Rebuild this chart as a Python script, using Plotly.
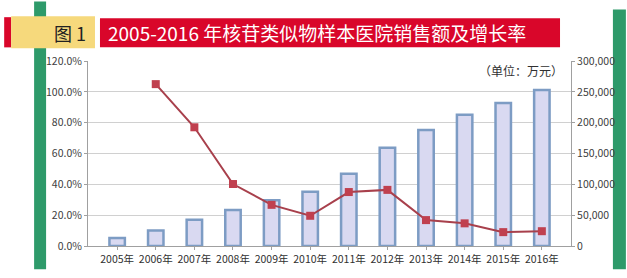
import plotly.graph_objects as go

years = ["2005年", "2006年", "2007年", "2008年", "2009年", "2010年",
         "2011年", "2012年", "2013年", "2014年", "2015年", "2016年"]
sales = [13000, 25000, 42500, 58500, 74000, 88000,
         117000, 159500, 188000, 213000, 232000, 253000]
growth = [None, 105.0, 77.0, 40.2, 26.7, 19.6,
          35.0, 36.4, 16.8, 14.7, 9.0, 9.6]

FONT = "Noto Sans CJK SC"

fig = go.Figure()
fig.add_trace(go.Bar(
    x=years, y=sales, width=0.4,
    marker=dict(color="#d9d9f1", line=dict(color="#7d9cc4", width=2.5)),
    yaxis="y", showlegend=False,
))
fig.add_trace(go.Scatter(
    x=years, y=growth, mode="lines+markers",
    line=dict(color="#a8404c", width=2),
    marker=dict(symbol="square", size=8, color="#c0404f"),
    yaxis="y2", showlegend=False,
))

fig.update_layout(
    width=627, height=278,
    margin=dict(l=88, r=55, t=61, b=27),
    paper_bgcolor="white", plot_bgcolor="white",
    font=dict(family=FONT, size=10.5, color="#404040"),
    xaxis=dict(
        showline=True, linecolor="#a0a0a0", linewidth=1,
        ticks="outside", ticklen=3, tickcolor="#a0a0a0",
        tickfont=dict(size=10.5, color="#303030"),
    ),
    yaxis=dict(
        side="right", range=[0, 300000], dtick=50000, tickformat=",",
        showgrid=True, gridcolor="#d0d0d0", gridwidth=1,
        showline=True, linecolor="#a0a0a0", ticks="outside", ticklen=3,
        tickcolor="#a0a0a0", zeroline=False,
        tickfont=dict(size=10.5, color="#404040"),
    ),
    yaxis2=dict(
        side="left", overlaying="y", range=[0, 120], dtick=20,
        tickformat=".1f", ticksuffix="%", showgrid=False,
        showline=True, linecolor="#a0a0a0", ticks="outside", ticklen=3,
        tickcolor="#a0a0a0", zeroline=False,
        tickfont=dict(size=10.5, color="#404040"),
    ),
    shapes=[
        dict(type="rect", xref="paper", yref="paper", layer="below",
             x0=(34-88)/484, x1=(46-88)/484, y0=-24/190, y1=(278-0-27)/190,
             fillcolor="#2e9a6a", line=dict(width=0)),
        dict(type="rect", xref="paper", yref="paper", layer="below",
             x0=(614-88)/484, x1=(627-88)/484, y0=-24/190, y1=(278-8-27)/190,
             fillcolor="#2e9a6a", line=dict(width=0)),
        dict(type="rect", xref="paper", yref="paper", layer="above",
             x0=(4-88)/484, x1=(11-88)/484, y0=(278-47-27)/190, y1=(278-16-27)/190,
             fillcolor="#d9062a", line=dict(width=0)),
        dict(type="rect", xref="paper", yref="paper", layer="above",
             x0=(11-88)/484, x1=(95-88)/484, y0=(278-48-27)/190, y1=(278-15-27)/190,
             fillcolor="#f6d97c", line=dict(width=0)),
        dict(type="rect", xref="paper", yref="paper", layer="above",
             x0=(100-88)/484, x1=(561-88)/484, y0=(278-47-27)/190, y1=(278-17-27)/190,
             fillcolor="#d9062a", line=dict(width=0)),
    ],
    annotations=[
        dict(text="图 1", xref="paper", yref="paper",
             x=(70-88)/484, y=(278-32-27)/190, xanchor="center", yanchor="middle",
             showarrow=False, font=dict(family=FONT, size=18, color="#222222")),
        dict(text="2005-2016 年核苷类似物样本医院销售额及增长率", xref="paper", yref="paper",
             x=(106-88)/484, y=(278-32-27)/190, xanchor="left", yanchor="middle",
             showarrow=False, font=dict(family=FONT, size=19, color="white")),
        dict(text="（单位：万元）", xref="paper", yref="paper",
             x=(566-88)/484, y=(278-71-27)/190, xanchor="right", yanchor="middle",
             showarrow=False, font=dict(family=FONT, size=12, color="#303030")),
    ],
)

fig.write_html("out.html")
